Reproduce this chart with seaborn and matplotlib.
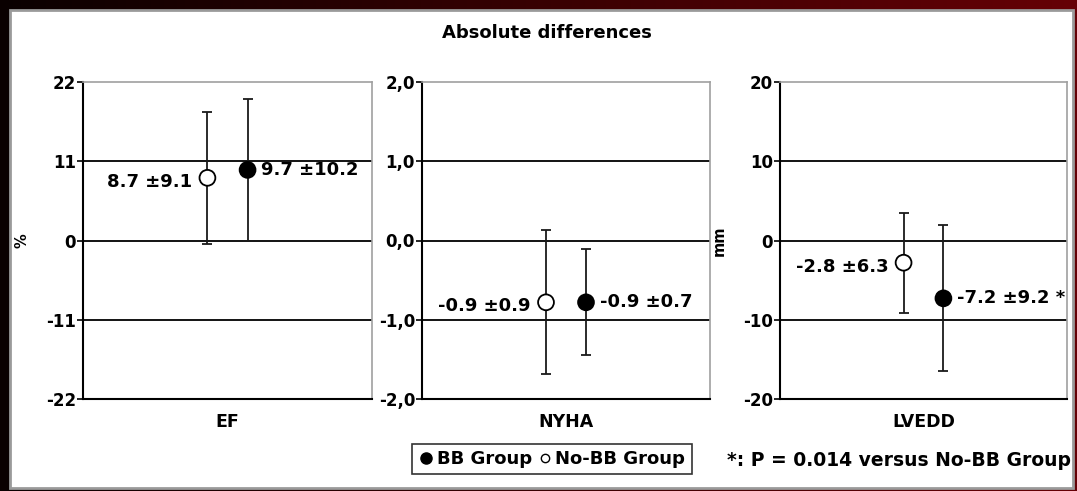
import numpy as np
import pandas as pd
import matplotlib
matplotlib.use("Agg")
import matplotlib.pyplot as plt
from matplotlib.lines import Line2D
from matplotlib.patches import Rectangle
import seaborn as sns

# ---------------- data ----------------
groups = ["No-BB Group", "BB Group"]
panels = ["EF", "NYHA", "LVEDD"]
ylabels = ["%", "", "mm"]

ef_mean = [8.7, 9.8]
ef_sd = [9.2, 9.9]
ef_text = ["8.7 \u00b19.1", "9.7 \u00b110.2"]
ef_ticks = [-22, -11, 0, 11, 22]
ef_ticklabels = ["-22", "-11", "0", "11", "22"]

nyha_mean = [-0.78, -0.78]
nyha_sd = [0.91, 0.67]
nyha_text = ["-0.9 \u00b10.9", "-0.9 \u00b10.7"]
nyha_ticks = [-2.0, -1.0, 0.0, 1.0, 2.0]
nyha_ticklabels = ["-2,0", "-1,0", "0,0", "1,0", "2,0"]

lvedd_mean = [-2.8, -7.3]
lvedd_sd = [6.3, 9.2]
lvedd_text = ["-2.8 \u00b16.3", "-7.2 \u00b19.2 *"]
lvedd_ticks = [-20, -10, 0, 10, 20]
lvedd_ticklabels = ["-20", "-10", "0", "10", "20"]

title = "Absolute differences"
footnote = "*: P = 0.014 versus No-BB Group"

means = [ef_mean, nyha_mean, lvedd_mean]
sds = [ef_sd, nyha_sd, lvedd_sd]
texts = [ef_text, nyha_text, lvedd_text]
ticks = [ef_ticks, nyha_ticks, lvedd_ticks]
ticklabels = [ef_ticklabels, nyha_ticklabels, lvedd_ticklabels]

# ---------------- style ----------------
sns.set_theme(style="white")
plt.rcParams["font.family"] = ["DejaVu Sans"]
plt.rcParams["font.weight"] = "bold"
plt.rcParams["text.color"] = "black"
plt.rcParams["axes.labelcolor"] = "black"
plt.rcParams["xtick.color"] = "black"
plt.rcParams["ytick.color"] = "black"

W, H = 1077, 491
fig = plt.figure(figsize=(W / 100, H / 100), dpi=100, facecolor="#100000")

# background decoration
bg = fig.add_axes([0, 0, 1, 1], zorder=-10)
grad = np.linspace(0, 1, 256)
img = np.zeros((1, 256, 3))
img[0, :, 0] = 0.04 + 0.36 * grad
img[0, :, 1] = 0.0
img[0, :, 2] = 0.02 * grad
bg.imshow(img, aspect="auto", extent=[0, 1, 0, 1])
bg.add_patch(Rectangle((10 / W, 3 / H), 1063 / W, 478 / H, facecolor="white",
                       edgecolor="#9a9a9a", lw=2.0))
bg.set_xlim(0, 1)
bg.set_ylim(0, 1)
bg.axis("off")

palette = {"BB Group": "black", "No-BB Group": "white"}
xpos = {"No-BB Group": 0, "BB Group": 1}

lefts = [83, 422, 780]
widths = [289, 288, 287]
top_px, bot_px = 82, 399
label_offsets = [(-11, -3), (10, 0)]

for i, name in enumerate(panels):
    ax = fig.add_axes([lefts[i] / W, 1 - bot_px / H, widths[i] / W, (bot_px - top_px) / H])
    df = pd.DataFrame({"group": groups, "x": [xpos[g] for g in groups],
                       "mean": means[i], "sd": sds[i], "text": texts[i]})
    ax.errorbar(df["x"], df["mean"], yerr=df["sd"], fmt="none", ecolor="#1a1a1a",
                elinewidth=1.3, capsize=3.5, capthick=1.3, zorder=3)
    sns.scatterplot(data=df, x="x", y="mean", hue="group", palette=palette,
                    edgecolor="black", linewidth=1.3, s=130, marker="o",
                    legend=False, ax=ax, zorder=4)
    for j, row in df.iterrows():
        dx, dy = label_offsets[j]
        ax.annotate(row["text"], (row["x"], row["mean"]), xytext=(dx, dy),
                    textcoords="offset points", ha="right" if dx < 0 else "left",
                    va="center", fontsize=13, fontweight="bold", color="black",
                    zorder=5, annotation_clip=False)
    for t in ticks[i][1:-1]:
        ax.axhline(t, color="black", lw=1.3, zorder=1)
    ax.set_xlim(-3.1, 4.1)
    ax.set_ylim(ticks[i][0], ticks[i][-1])
    ax.set_yticks(ticks[i])
    ax.set_yticklabels(ticklabels[i], fontsize=12, fontweight="bold")
    ax.set_xticks([])
    ax.set_xlabel(name, fontsize=12.5, fontweight="bold", labelpad=10)
    ax.set_ylabel(ylabels[i], fontsize=10.5, fontweight="bold")
    ax.yaxis.set_label_coords(-0.185, 0.5)
    ax.tick_params(axis="y", left=True, direction="out", length=4, width=1.2,
                   color="black", pad=1)
    for s in ["left", "bottom"]:
        ax.spines[s].set_color("black")
        ax.spines[s].set_linewidth(1.5)
    for s in ["top", "right"]:
        ax.spines[s].set_color("#a0a0a0")
        ax.spines[s].set_linewidth(1.2)
    ax.set_facecolor("white")

fig.text(547 / W, 1 - 33 / H, title, ha="center", va="center",
         fontsize=13, fontweight="bold")

handles = [Line2D([], [], marker="o", ls="none", markerfacecolor="black",
                  markeredgecolor="black", markersize=8, label="BB Group"),
           Line2D([], [], marker="o", ls="none", markerfacecolor="white",
                  markeredgecolor="black", markersize=6, label="No-BB Group")]
leg = fig.legend(handles=handles, loc="center", bbox_to_anchor=(552 / W, 1 - 459 / H),
                 ncol=2, frameon=True, fancybox=False, handletextpad=0.2,
                 columnspacing=0.3, handlelength=0.8, borderpad=0.35,
                 prop={"size": 13, "weight": "bold"})
leg.get_frame().set_edgecolor("black")
leg.get_frame().set_linewidth(1.2)

fig.text(727 / W, 1 - 461 / H, footnote, ha="left", va="center",
         fontsize=13.5, fontweight="bold")

fig.savefig("out.png", dpi=100, facecolor=fig.get_facecolor())
